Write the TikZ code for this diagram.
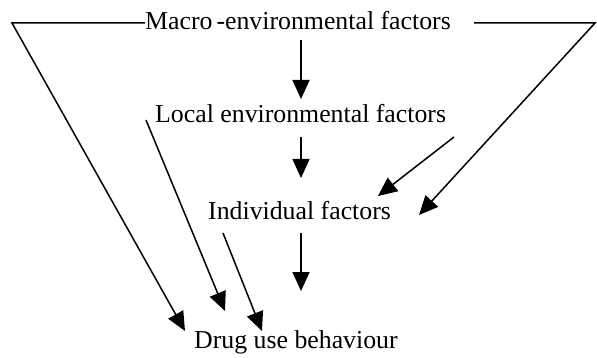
\documentclass[tikz,border=0pt]{standalone}
\usepackage{fontspec}
\setmainfont{Liberation Serif}
\usetikzlibrary{arrows.meta}
\begin{document}
\begin{tikzpicture}[x=1pt,y=-1pt,
  lbl/.style={inner sep=0pt,anchor=base west,font=\fontsize{25.8}{30}\selectfont},
  conn/.style={line width=1.5pt},
  arr/.style={conn,-{Triangle[length=19pt,width=17pt]}}]
\useasboundingbox (0,0) rectangle (597,358);
\node[lbl] (macro) at (145,30) {Macro\kern4pt-environmental factors};
\node[lbl] (local) at (155,123) {Local environmental factors};
\node[lbl] (indiv) at (208,220) {Individual factors};
\node[lbl] (drug) at (194,348) {Drug use behaviour};
% corners and free ends
\coordinate (lc) at (12,23);
\coordinate (rs) at (474,23);
\coordinate (rc) at (595,23);
\coordinate (m1) at (301,40);
\coordinate (m2) at (301,99);
\coordinate (l1) at (301,137);
\coordinate (l2) at (301,178);
\coordinate (i1) at (301,233);
\coordinate (i2) at (301,291);
\coordinate (ls) at (146,120);
\coordinate (lt) at (225,311);
\coordinate (is) at (223,233);
\coordinate (it) at (262,331);
\coordinate (rl) at (454,137);
\coordinate (rlt) at (378,196);
\coordinate (rt) at (419,215);
\coordinate (dt) at (185,331);
% connectors
\draw[arr] (macro.west |- lc) -- (lc) -- (dt);
\draw[arr] (rs) -- (rc) -- (rt);
\draw[arr] (m1) -- (m2);
\draw[arr] (l1) -- (l2);
\draw[arr] (i1) -- (i2);
\draw[arr] (ls) -- (lt);
\draw[arr] (is) -- (it);
\draw[arr] (rl) -- (rlt);
\end{tikzpicture}
\end{document}
